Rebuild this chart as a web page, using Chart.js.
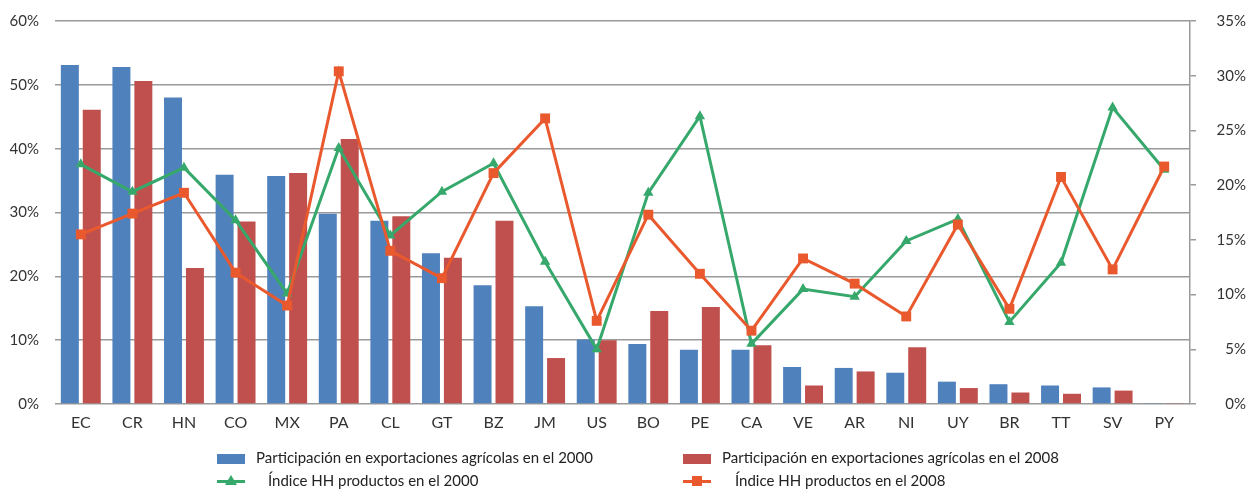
<!DOCTYPE html>
<html>
<head>
<meta charset="utf-8">
<script src="https://cdn.jsdelivr.net/npm/chart.js@4/dist/chart.umd.min.js"></script>
<style>
  html, body { margin: 0; padding: 0; background: #fff; }
  #wrap { position: relative; width: 1248px; height: 491px; overflow: hidden; }
  #chart { position: absolute; left: 0; top: 0; }
  .leg { position: absolute; font-family: Lato, sans-serif; font-size: 15px; color: #222; white-space: nowrap; }
  .sw { position: absolute; }
</style>
</head>
<body>
<div id="wrap">
  <canvas id="chart" width="1248" height="491"></canvas>
  <div id="legend"></div>
</div>
<script>
const countries = ['EC','CR','HN','CO','MX','PA','CL','GT','BZ','JM','US','BO','PE','CA','VE','AR','NI','UY','BR','TT','SV','PY'];

// participación en exportaciones agrícolas (%), eje izquierdo
const part2000 = [53.1, 52.8, 48.0, 35.9, 35.7, 29.8, 28.7, 23.6, 18.6, 15.3, 10.1, 9.4, 8.5, 8.5, 5.8, 5.65, 4.9, 3.5, 3.1, 2.9, 2.6, 0.15];
const part2008 = [46.1, 50.6, 21.3, 28.6, 36.2, 41.5, 29.4, 22.9, 28.7, 7.2, 10.0, 14.55, 15.2, 9.2, 2.9, 5.1, 8.9, 2.5, 1.8, 1.6, 2.1, 0.15];

// índice HH productos (%), eje derecho
const hh2000 = [21.9, 19.4, 21.6, 16.8, 10.1, 23.4, 15.4, 19.4, 22.0, 13.0, 5.0, 19.3, 26.3, 5.5, 10.5, 9.8, 14.9, 16.9, 7.5, 12.9, 27.1, 21.4];
const hh2008 = [15.5, 17.4, 19.3, 12.0, 9.0, 30.4, 14.0, 11.5, 21.1, 26.1, 7.6, 17.3, 11.9, 6.7, 13.3, 11.0, 8.0, 16.4, 8.7, 20.75, 12.3, 21.7];

const leftTicks = [0, 10, 20, 30, 40, 50, 60];
const rightTicks = [0, 5, 10, 15, 20, 25, 30, 35];

const labels = {
  bar2000: 'Participación en exportaciones agrícolas en el 2000',
  bar2008: 'Participación en exportaciones agrícolas en el 2008',
  hh2000: 'Índice HH productos en el 2000',
  hh2008: 'Índice HH productos en el 2008'
};

const BLUE = '#4F81BD', RED = '#C0504D', GREEN = '#36A86B', ORANGE = '#E9592D';
const GRID = '#9a9a9a', TXT = '#333333';

const ctx = document.getElementById('chart').getContext('2d');
new Chart(ctx, {
  data: {
    labels: countries,
    datasets: [
      { type: 'line', label: labels.hh2008, data: hh2008, yAxisID: 'y2', order: 0,
        borderColor: ORANGE, backgroundColor: ORANGE, borderWidth: 3,
        pointStyle: 'rect', pointRadius: 7, pointHoverRadius: 7, pointBorderWidth: 0, tension: 0 },
      { type: 'line', label: labels.hh2000, data: hh2000, yAxisID: 'y2', order: 1,
        borderColor: GREEN, backgroundColor: GREEN, borderWidth: 3,
        pointStyle: 'triangle', pointRadius: 6, pointHoverRadius: 6, pointBorderWidth: 0, tension: 0 },
      { type: 'bar', label: labels.bar2000, data: part2000, yAxisID: 'y', order: 2,
        backgroundColor: BLUE, categoryPercentage: 0.85, barPercentage: 0.82 },
      { type: 'bar', label: labels.bar2008, data: part2008, yAxisID: 'y', order: 2,
        backgroundColor: RED, categoryPercentage: 0.85, barPercentage: 0.82 }
    ]
  },
  options: {
    responsive: false,
    animation: false,
    layout: { padding: { top: 21, right: 2, bottom: 52, left: 0 } },
    plugins: { legend: { display: false }, tooltip: { enabled: false } },
    scales: {
      x: {
        grid: { display: false },
        border: { display: false },
        ticks: { color: TXT, font: { family: 'Lato', size: 16 }, padding: 1, maxRotation: 0 },
        afterFit: (s) => { s.height = 35; }
      },
      y: {
        position: 'left', min: 0, max: 60,
        afterBuildTicks: (s) => { s.ticks = leftTicks.map(v => ({ value: v })); },
        grid: { color: GRID, lineWidth: 1.5, drawTicks: false },
        border: { display: false },
        ticks: { color: TXT, font: { family: 'Lato', size: 15 }, padding: 16, callback: v => v + '%' },
        afterFit: (s) => { s.width = 55; s.paddingTop = 0; s.paddingBottom = 0; }
      },
      y2: {
        position: 'right', min: 0, max: 35,
        afterBuildTicks: (s) => { s.ticks = rightTicks.map(v => ({ value: v })); },
        grid: { drawOnChartArea: false, drawTicks: true, tickLength: 6, color: GRID, lineWidth: 1.5 },
        border: { display: true, color: GRID, width: 1.5 },
        ticks: { color: TXT, font: { family: 'Lato', size: 15 }, padding: 17, crossAlign: 'far', callback: v => v + '%' },
        afterFit: (s) => { s.width = 56; s.paddingTop = 0; s.paddingBottom = 0; }
      }
    }
  }
});

// leyenda en dos columnas
const legendItems = [
  { text: labels.bar2000, kind: 'bar', color: BLUE, sx: 217, tx: 256, y: 458 },
  { text: labels.bar2008, kind: 'bar', color: RED, sx: 683, tx: 722, y: 458 },
  { text: labels.hh2000, kind: 'line', shape: 'tri', color: GREEN, sx: 217, tx: 268, y: 481 },
  { text: labels.hh2008, kind: 'line', shape: 'sq', color: ORANGE, sx: 683, tx: 735, y: 481 }
];
const legend = document.getElementById('legend');
legendItems.forEach(it => {
  const t = document.createElement('div');
  t.className = 'leg';
  t.textContent = it.text;
  t.style.left = it.tx + 'px';
  t.style.top = (it.y - 10) + 'px';
  legend.appendChild(t);
  if (it.kind === 'bar') {
    const s = document.createElement('div');
    s.className = 'sw';
    s.style.cssText = `left:${it.sx}px;top:${it.y - 4}px;width:28px;height:10px;background:${it.color}`;
    legend.appendChild(s);
  } else {
    const l = document.createElement('div');
    l.className = 'sw';
    l.style.cssText = `left:${it.sx}px;top:${it.y - 1}px;width:28px;height:3px;background:${it.color}`;
    legend.appendChild(l);
    const m = document.createElement('div');
    m.className = 'sw';
    if (it.shape === 'sq') {
      m.style.cssText = `left:${it.sx + 9}px;top:${it.y - 5}px;width:10px;height:10px;background:${it.color}`;
    } else {
      m.style.cssText = `left:${it.sx + 8}px;top:${it.y - 6}px;width:0;height:0;border-left:6px solid transparent;border-right:6px solid transparent;border-bottom:10px solid ${it.color}`;
    }
    legend.appendChild(m);
  }
});
</script>
</body>
</html>
